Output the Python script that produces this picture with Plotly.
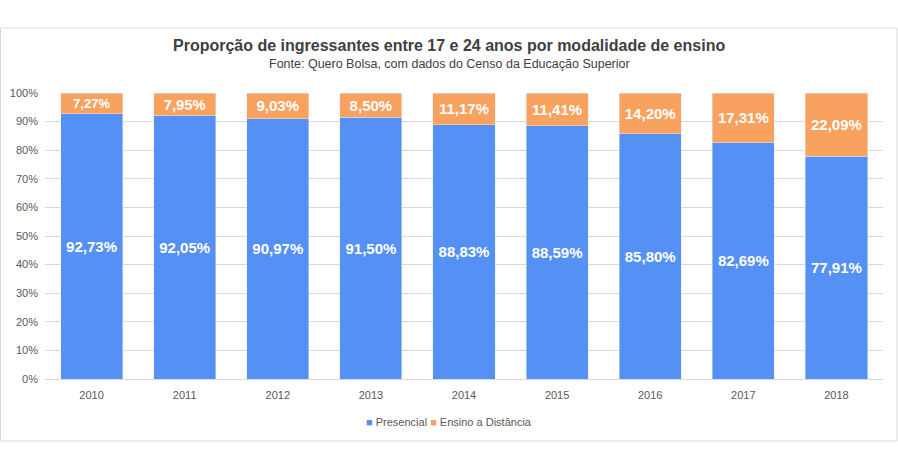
import plotly.graph_objects as go

years = ["2010", "2011", "2012", "2013", "2014", "2015", "2016", "2017", "2018"]
presencial = [92.73, 92.05, 90.97, 91.50, 88.83, 88.59, 85.80, 82.69, 77.91]
distancia = [7.27, 7.95, 9.03, 8.50, 11.17, 11.41, 14.20, 17.31, 22.09]
tick_vals = [0, 10, 20, 30, 40, 50, 60, 70, 80, 90, 100]
tick_text = [f"{v}%" for v in tick_vals]
series_names = ["Presencial", "Ensino a Distância"]

def fmt(v):
    return f"{v:.2f}".replace(".", ",") + "%"

BLUE = "#5591F5"
ORANGE = "#F9A15F"
TICKFONT = dict(family="Liberation Sans, Arial", size=11, color="#595959")

fig = go.Figure()
for name, vals, col in [(series_names[0], presencial, BLUE), (series_names[1], distancia, ORANGE)]:
    fig.add_trace(go.Bar(
        x=years, y=vals, name=name, marker_color=col,
        text=[fmt(v) for v in vals], textposition="inside",
        insidetextanchor="middle",
        textfont=dict(family="Liberation Sans, Arial", size=15, color="white", weight="bold"),
        hoverinfo="skip", showlegend=False,
    ))

L, R, T, B = 45, 15, 93, 91
W, H = 898, 470
pw, ph = W - L - R, H - T - B
cx = (W / 2 - L) / pw

legend_text = (f"<span style='color:{BLUE}'>■</span> {series_names[0]} "
               f"<span style='color:{ORANGE}'>■</span> {series_names[1]}")

fig.update_layout(
    width=W, height=H,
    margin=dict(l=L, r=R, t=T, b=B, autoexpand=False),
    barmode="stack", bargap=0.333,
    plot_bgcolor="white", paper_bgcolor="white",
    xaxis=dict(showgrid=False, tickfont=TICKFONT, ticklabelstandoff=6, automargin=False,
               showline=True, linecolor="#D9D9D9", ticks="", fixedrange=True),
    yaxis=dict(range=[0, 100], tickvals=tick_vals, ticktext=tick_text, automargin=False,
               tickfont=TICKFONT, ticklabelstandoff=6,
               gridcolor="#D9D9D9", zeroline=False, ticks="", fixedrange=True),
    annotations=[
        dict(text="<b>Proporção de ingressantes entre 17 e 24 anos por modalidade de ensino</b>",
             xref="paper", yref="paper", x=cx, y=(H - B - 46) / ph,
             xanchor="center", yanchor="middle", showarrow=False,
             font=dict(family="Liberation Sans Narrow, Arial Narrow, Liberation Sans", size=16, color="#404040")),
        dict(text="Fonte: Quero Bolsa, com dados do Censo da Educação Superior",
             xref="paper", yref="paper", x=cx, y=(H - B - 64) / ph,
             xanchor="center", yanchor="middle", showarrow=False,
             font=dict(family="Liberation Sans Narrow, Arial Narrow, Liberation Sans", size=12.5, color="#404040")),
        dict(text=legend_text,
             xref="paper", yref="paper", x=cx, y=(H - B - 422) / ph,
             xanchor="center", yanchor="middle", showarrow=False,
             font=dict(family="Liberation Sans, Arial", size=11, color="#595959")),
    ],
    shapes=[
        dict(type="rect", xref="paper", yref="paper",
             x0=(0.5 - L) / pw, x1=(897 - L) / pw,
             y0=(H - B - 441) / ph, y1=(H - B - 28) / ph,
             line=dict(color="#D9D9D9", width=1), fillcolor="rgba(0,0,0,0)", layer="below"),
    ],
)

fig.write_html("out.html", config={"displayModeBar": False})
